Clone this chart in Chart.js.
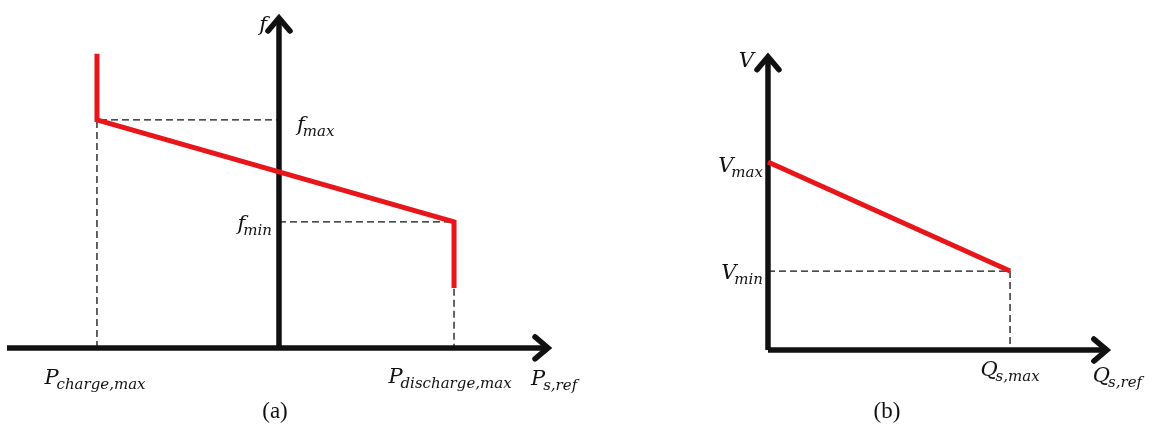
<!DOCTYPE html>
<html>
<head>
<meta charset="utf-8">
<script src="https://cdn.jsdelivr.net/npm/chart.js@4.4.0/dist/chart.umd.min.js"></script>
<style>
  html, body { margin: 0; padding: 0; background: #fff; }
  #wrap { position: relative; width: 1156px; height: 435px; }
  #ca { position: absolute; left: 0; top: 0; }
  #cb { position: absolute; left: 600px; top: 0; }
</style>
</head>
<body>
<div id="wrap">
  <canvas id="ca" width="600" height="435"></canvas>
  <canvas id="cb" width="556" height="435"></canvas>
</div>
<script>
// ---- panel (a): P-f droop, normalised (P_discharge,max = 1, f_max = 1)
var pChargeMax = -1.04;
var pDischargeMax = 1.0;
var fMax = 1.0;
var fMin = 0.553;
var fLimitTop = 1.29;      // top of the vertical red limit at P_charge,max
var fLimitBottom = 0.263;  // bottom of the vertical red limit at P_discharge,max
var axisA_P = [-1.554, 1.537];
var axisA_f = [0, 1.447];

// ---- panel (b): Q-V droop, normalised (Q_s,max = 1, V_max = 1)
var qMax = 1.0;
var vMax = 1.0;
var vMin = 0.42;
var axisB_Q = [0, 1.40];
var axisB_V = [0, 1.56];

var RED = '#e8161a';
var INK = '#111';
var DASH = '#111';
var SERIF = '"DejaVu Serif", "Liberation Serif", serif';

function pts(list) {
  return list.map(function(p) { return {x: p[0], y: p[1]}; });
}

function lineSet(data, color, width, dash) {
  return {
    data: pts(data),
    showLine: true,
    borderColor: color,
    borderWidth: width,
    borderDash: dash || [],
    pointRadius: 0,
    fill: false,
    tension: 0,
    borderJoinStyle: 'miter',
    borderCapStyle: 'butt'
  };
}

// italic letter with a small italic subscript
function subText(ctx, main, sub, x, y, align) {
  var big = 'italic 21px ' + SERIF;
  var small = 'italic 15px ' + SERIF;
  ctx.font = big;
  var w1 = ctx.measureText(main).width;
  ctx.font = small;
  var w2 = sub ? ctx.measureText(sub).width : 0;
  var gap = sub ? -2 : 0;
  var total = w1 + w2 + gap;
  var x0 = x;
  if (align === 'right') x0 = x - total;
  if (align === 'center') x0 = x - total / 2;
  ctx.fillStyle = INK;
  ctx.textAlign = 'left';
  ctx.textBaseline = 'alphabetic';
  ctx.font = big;
  ctx.fillText(main, x0, y);
  if (sub) {
    ctx.font = small;
    ctx.fillText(sub, x0 + w1 + gap, y + 5);
  }
}

function arrowHead(ctx, x, y, dir) {
  ctx.save();
  ctx.strokeStyle = INK;
  ctx.lineWidth = 5.5;
  ctx.lineJoin = 'miter';
  ctx.lineCap = 'round';
  ctx.beginPath();
  if (dir === 'right') {
    ctx.moveTo(x - 13, y - 11); ctx.lineTo(x, y); ctx.lineTo(x - 13, y + 11);
  } else {
    ctx.moveTo(x - 11, y + 13); ctx.lineTo(x, y); ctx.lineTo(x + 11, y + 13);
  }
  ctx.stroke();
  ctx.restore();
}

function baseOptions(xr, yr) {
  return {
    responsive: false,
    animation: false,
    events: [],
    layout: { padding: 0 },
    plugins: { legend: { display: false }, tooltip: { enabled: false } },
    scales: {
      x: { type: 'linear', display: false, min: xr[0], max: xr[1] },
      y: { type: 'linear', display: false, min: yr[0], max: yr[1] }
    }
  };
}

function caption(ctx, text, x) {
  ctx.save();
  ctx.font = '23px "Liberation Serif", serif';
  ctx.fillStyle = INK;
  ctx.textAlign = 'center';
  ctx.fillText(text, x, 418);
  ctx.restore();
}

// ---------- chart (a)
var labelsA = {
  id: 'labelsA',
  afterDatasetsDraw: function(chart) {
    var ctx = chart.ctx, sx = chart.scales.x, sy = chart.scales.y;
    var ox = sx.getPixelForValue(0), oy = sy.getPixelForValue(0);
    var tipX = sx.getPixelForValue(axisA_P[1]);
    var tipY = sy.getPixelForValue(axisA_f[1]);
    arrowHead(ctx, tipX, oy, 'right');
    arrowHead(ctx, ox, tipY, 'up');
    subText(ctx, 'f', '', ox - 12, tipY + 13, 'right');
    subText(ctx, 'f', 'max', ox + 18, sy.getPixelForValue(fMax) + 11, 'left');
    subText(ctx, 'f', 'min', ox - 7, sy.getPixelForValue(fMin) + 8, 'right');
    subText(ctx, 'P', 'charge,max', sx.getPixelForValue(pChargeMax) - 2, oy + 36, 'center');
    subText(ctx, 'P', 'discharge,max', sx.getPixelForValue(pDischargeMax) - 4, oy + 35, 'center');
    subText(ctx, 'P', 's,ref', tipX - 17, oy + 37, 'left');
    caption(ctx, '(a)', ox - 4);
  }
};

new Chart(document.getElementById('ca'), {
  type: 'scatter',
  data: {
    datasets: [
      lineSet([[pChargeMax, fLimitTop], [pChargeMax, fMax], [pDischargeMax, fMin], [pDischargeMax, fLimitBottom]], RED, 5),
      lineSet([[axisA_P[0], 0], [axisA_P[1], 0]], INK, 5.5),
      lineSet([[0, 0], [0, axisA_f[1]]], INK, 5.5),
      lineSet([[pChargeMax, 0], [pChargeMax, fMax], [0, fMax]], DASH, 1.3, [7, 4]),
      lineSet([[0, fMin], [pDischargeMax, fMin], [pDischargeMax, 0]], DASH, 1.3, [7, 4])
    ]
  },
  options: baseOptions([-1.594, 1.834], [-0.382, 1.526]),
  plugins: [labelsA]
});

// ---------- chart (b)
var labelsB = {
  id: 'labelsB',
  afterDatasetsDraw: function(chart) {
    var ctx = chart.ctx, sx = chart.scales.x, sy = chart.scales.y;
    var ox = sx.getPixelForValue(0), oy = sy.getPixelForValue(0);
    var tipX = sx.getPixelForValue(axisB_Q[1]);
    var tipY = sy.getPixelForValue(axisB_V[1]);
    arrowHead(ctx, tipX, oy, 'right');
    arrowHead(ctx, ox, tipY, 'up');
    subText(ctx, 'V', '', ox - 14, tipY + 10, 'right');
    subText(ctx, 'V', 'max', ox - 5, sy.getPixelForValue(vMax) + 10, 'right');
    subText(ctx, 'V', 'min', ox - 5, sy.getPixelForValue(vMin) + 8, 'right');
    subText(ctx, 'Q', 's,max', sx.getPixelForValue(qMax), oy + 26, 'center');
    subText(ctx, 'Q', 's,ref', tipX - 14, oy + 32, 'left');
    caption(ctx, '(b)', 287);
  }
};

new Chart(document.getElementById('cb'), {
  type: 'scatter',
  data: {
    datasets: [
      lineSet([[0, vMax], [qMax, vMin]], RED, 5),
      lineSet([[0, 0], [axisB_Q[1], 0]], INK, 5.5),
      lineSet([[0, 0], [0, axisB_V[1]]], INK, 5.5),
      lineSet([[0, vMin], [qMax, vMin], [qMax, 0]], DASH, 1.3, [7, 4])
    ]
  },
  options: baseOptions([-0.694, 1.603], [-0.452, 1.862]),
  plugins: [labelsB]
});
</script>
</body>
</html>
